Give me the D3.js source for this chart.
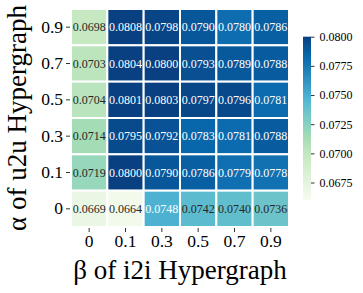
<!DOCTYPE html>
<html><head><meta charset="utf-8">
<script src="https://cdn.jsdelivr.net/npm/d3@7"></script>
<style>body{margin:0;background:#fff}svg{display:block}svg text{font-family:"Liberation Serif","Times New Roman",serif}</style>
</head><body>
<script>
const betaLabels = ["0","0.1","0.3","0.5","0.7","0.9"];
const alphaLabels = ["0.9","0.7","0.5","0.3","0.1","0"];
const row09 = [0.0698,0.0808,0.0798,0.0790,0.0780,0.0786];
const row07 = [0.0703,0.0804,0.0800,0.0793,0.0789,0.0788];
const row05 = [0.0704,0.0801,0.0803,0.0797,0.0796,0.0781];
const row03 = [0.0714,0.0795,0.0792,0.0783,0.0781,0.0788];
const row01 = [0.0719,0.0800,0.0790,0.0786,0.0779,0.0778];
const row00 = [0.0669,0.0664,0.0748,0.0742,0.0740,0.0736];
const rows = [row09,row07,row05,row03,row01,row00];
const cbTicks = [0.0675,0.0700,0.0725,0.0750,0.0775,0.0800];
const vmin = 0.066, vmax = 0.080;
const gnbu = ['#f7fcf0','#e0f3db','#ccebc5','#a8ddb5','#7bccc4','#4eb3d3','#2b8cbe','#0868ac','#084081'];
const FF = "Liberation Serif, Times New Roman, serif";

const W=363,H=293;
const svg=d3.select("body").append("svg").attr("width",W).attr("height",H).attr("font-family",FF);
const x0=71,x1=289,y0=9,y1=227;
const x=d3.scaleBand().domain(betaLabels).range([x0,x1]);
const y=d3.scaleBand().domain(alphaLabels).range([y0,y1]);
const cmap=d3.scaleLinear().domain(d3.range(9).map(i=>vmin+(vmax-vmin)*i/8)).range(gnbu).interpolate(d3.interpolateRgb).clamp(true);

function lum(c){const r=d3.rgb(c);const f=v=>{v/=255;return v<=0.03928?v/12.92:Math.pow((v+0.055)/1.055,2.4)};return 0.2126*f(r.r)+0.7152*f(r.g)+0.0722*f(r.b);}

const cells=[];
rows.forEach((r,i)=>r.forEach((v,j)=>cells.push({a:alphaLabels[i],b:betaLabels[j],v})));
const g=svg.append("g");
g.selectAll("rect").data(cells).join("rect")
 .attr("x",d=>x(d.b)).attr("y",d=>y(d.a))
 .attr("width",x.bandwidth()).attr("height",y.bandwidth())
 .attr("fill",d=>cmap(d.v)).attr("stroke","#fff").attr("stroke-width",2);
g.selectAll("text").data(cells).join("text")
 .attr("x",d=>x(d.b)+x.bandwidth()/2).attr("y",d=>y(d.a)+y.bandwidth()/2)
 .attr("text-anchor","middle").attr("dy","0.35em").attr("font-size",12)
 .attr("font-family",FF)
 .attr("fill",d=>lum(cmap(d.v))>0.408?"#262626":"#fff")
 .text(d=>d.v.toFixed(4));

// axes
const xa=svg.append("g").attr("transform",`translate(0,${y1})`)
 .call(d3.axisBottom(x).tickSize(4).tickPadding(4));
xa.attr("font-family",FF);
xa.select(".domain").remove();
xa.selectAll("line").attr("stroke","#333").attr("transform","translate(0,1)");
xa.selectAll("text").attr("font-size",17.5).attr("fill","#000");
const ya=svg.append("g").attr("transform",`translate(${x0},0)`)
 .call(d3.axisLeft(y).tickSize(4).tickPadding(4));
ya.attr("font-family",FF);
ya.select(".domain").remove();
ya.selectAll("line").attr("stroke","#333").attr("transform","translate(-1,0)");
ya.selectAll("text").attr("font-size",17.5).attr("fill","#000");

svg.append("text").attr("x",(x0+x1)/2).attr("y",279).attr("text-anchor","middle")
 .attr("font-size",27).attr("font-family",FF).text("β of i2i Hypergraph");
svg.append("text").attr("transform",`translate(26,${(y0+y1)/2}) rotate(-90)`).attr("text-anchor","middle")
 .attr("font-size",27).attr("font-family",FF).text("α of u2u Hypergraph");

// colorbar
const cbX=303,cbW=8,cbTop=36.7,cbBot=200;
const cy=d3.scaleLinear().domain([vmin,vmax]).range([cbBot,cbTop]);
const defs=svg.append("defs");
const lg=defs.append("linearGradient").attr("id","cb").attr("x1",0).attr("y1",1).attr("x2",0).attr("y2",0);
gnbu.forEach((c,i)=>lg.append("stop").attr("offset",i/8).attr("stop-color",c));
svg.append("rect").attr("x",cbX).attr("y",cbTop).attr("width",cbW).attr("height",cbBot-cbTop).attr("fill","url(#cb)");
const ca=svg.append("g").attr("transform",`translate(${cbX+cbW},0)`)
 .call(d3.axisRight(cy).tickValues(cbTicks).tickFormat(d3.format(".4f")).tickSize(3.5).tickPadding(5));
ca.attr("font-family",FF);
ca.select(".domain").remove();
ca.selectAll("line").attr("stroke","#333");
ca.selectAll("text").attr("font-size",12).attr("fill","#000");
</script>
</body></html>
